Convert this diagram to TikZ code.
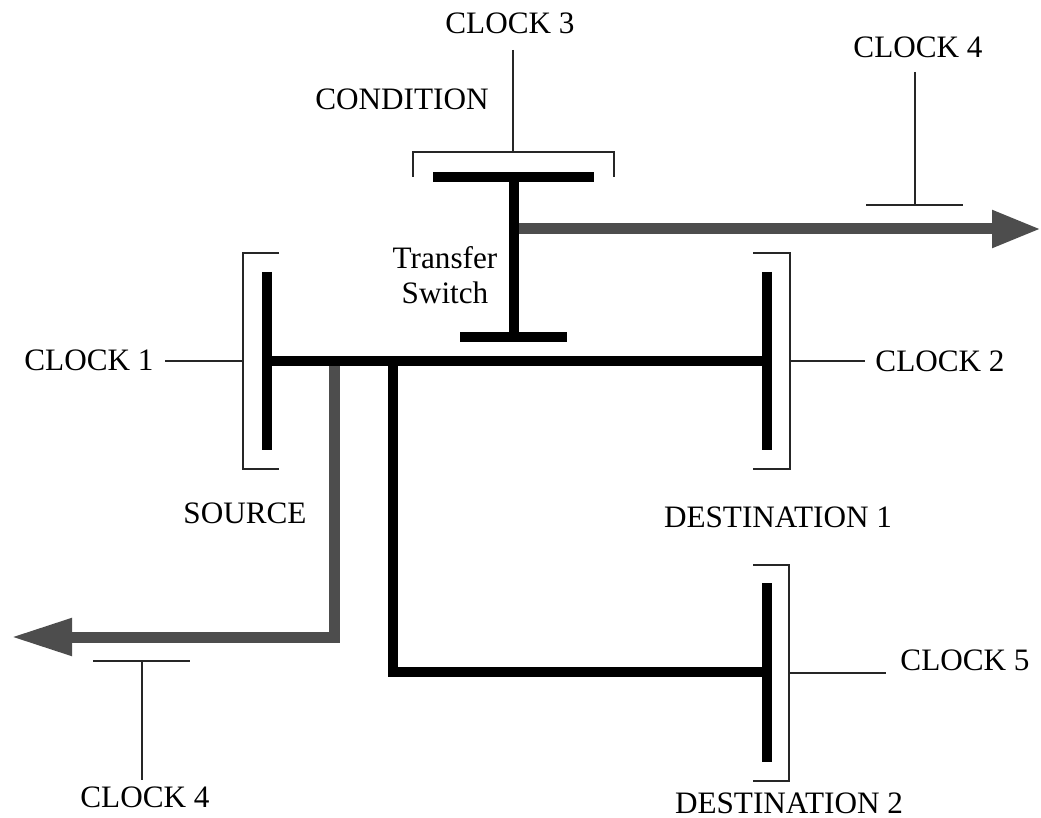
\documentclass[tikz,border=0pt]{standalone}
\usepackage{fontspec}
\setmainfont{Liberation Serif}
\usepackage{tikz}
\usetikzlibrary{arrows.meta}
\definecolor{pathgray}{RGB}{77,77,77}

\begin{document}
\begin{tikzpicture}[x=1pt,y=-1pt,
  lbl/.style={font=\fontsize{31.2}{35}\selectfont,inner sep=0pt},
  bar/.style={line width=10pt,black},
  gbus/.style={line width=11pt,pathgray,-{Triangle[length=49pt,width=35pt]}},
  thin/.style={line width=1.5pt,black!85}]
\useasboundingbox (0,0) rectangle (1041,818);
% labels
\node[lbl] (clk1) at (89,360) {CLOCK 1};
\node[lbl] (clk2) at (940,361) {CLOCK 2};
\node[lbl] (clk3) at (510,23) {CLOCK 3};
\node[lbl] (clk4a) at (918,47) {CLOCK 4};
\node[lbl] (clk4b) at (145,797) {CLOCK 4};
\node[lbl] (clk5) at (965,660) {CLOCK 5};
\node[lbl] (cond) at (402,99) {CONDITION};
\node[lbl] (src) at (245,513) {SOURCE};
\node[lbl] (dst1) at (778,517) {DESTINATION 1};
\node[lbl] (dst2) at (789,803) {DESTINATION 2};
\node[lbl,align=center] (tsw) at (445,275) {Transfer\\Switch};
% bar ends and junctions
\coordinate (srcT) at (267,272);
\coordinate (srcB) at (267,450);
\coordinate (srcM) at (267,361);
\coordinate (d1T) at (767,272);
\coordinate (d1B) at (767,450);
\coordinate (d1M) at (767,361);
\coordinate (d2T) at (767,583);
\coordinate (d2B) at (767,762);
\coordinate (d2M) at (767,672);
\coordinate (swT) at (514,177);
\coordinate (swB) at (514,337);
\coordinate (swO) at (514,229);
\coordinate (tap1) at (334,361);
\coordinate (tap2) at (393,361);
\coordinate (outR) at (1041,229);
\coordinate (outL) at (11,637);
% brackets
\draw[thin] (279,253) -- (243,253) -- (243,469) -- (279,469);
\draw[thin] (753,253) -- (790,253) -- (790,469) -- (753,469);
\draw[thin] (753,565) -- (789,565) -- (789,781) -- (753,781);
\draw[thin] (413,177) -- (413,152) -- (614,152) -- (614,177);
% clock lines
\coordinate (c1e) at (165,361);
\coordinate (c1b) at (243,361);
\coordinate (c2e) at (865,361);
\coordinate (c2b) at (790,361);
\coordinate (c3e) at (513,50);
\coordinate (c3b) at (513,152);
\coordinate (c4ae) at (915,72);
\coordinate (c4ab) at (915,205);
\coordinate (c4be) at (142,780);
\coordinate (c4bb) at (142,661);
\coordinate (c5e) at (886,673);
\coordinate (c5b) at (789,673);
\draw[thin] (c1e) -- (c1b);
\draw[thin] (c2b) -- (c2e);
\draw[thin] (c3e) -- (c3b);
\draw[thin] (c4ae) -- (c4ab);
\draw[thin] (866,205) -- (963,205);
\draw[thin] (c4bb) -- (c4be);
\draw[thin] (93,661) -- (190,661);
\draw[thin] (c5b) -- (c5e);
% gray outputs
\draw[gbus] (swO) -- (outR);
\draw[gbus,-{Triangle[length=61pt,width=35pt]}] (tap1) |- (outL);
% black buses
\draw[bar] (srcT) -- (srcB);
\draw[bar] (d1T) -- (d1B);
\draw[bar] (d2T) -- (d2B);
\draw[bar] (433,177) -- (594,177);
\draw[bar] (460,337) -- (567,337);
\draw[bar] (swT) -- (swB);
\draw[bar] (srcM) -- (d1M);
\draw[bar] (tap2) |- (d2M);
\end{tikzpicture}
\end{document}
